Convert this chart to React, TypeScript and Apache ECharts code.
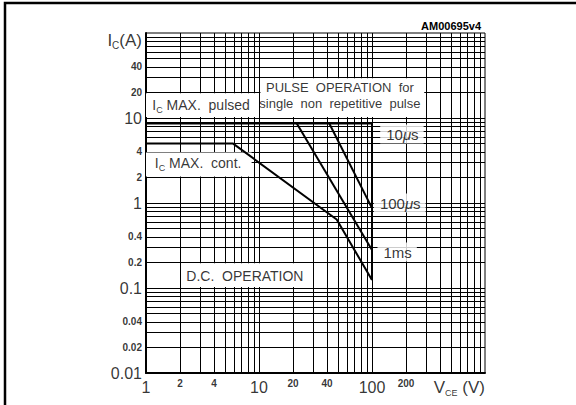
import React, { useEffect, useRef } from "react";
import * as echarts from "echarts";

// ---- grid structure (log paper) ----
const gridMultipliers = [1, 2, 3, 4, 5, 6, 7, 8, 9];
const xDecades = [1, 10, 100];
const yDecades = [0.01, 0.1, 1, 10];

// ---- tick labels ----
const xTickValues = [1, 2, 4, 10, 20, 40, 100, 200];
const xTickLabels = ["1", "2", "4", "10", "20", "40", "100", "200"];
const xTickMajor = [true, false, false, true, false, false, true, false];
const yTickValues = [0.01, 0.02, 0.04, 0.1, 0.2, 0.4, 1, 2, 4, 10, 20, 40];
const yTickLabels = ["0.01", "0.02", "0.04", "0.1", "0.2", "0.4", "1", "2", "4", "10", "20", "40"];
const yTickMajor = [true, false, false, true, false, false, true, false, false, true, false, false];

// ---- SOA curves (Vce in V, Ic in A) ----
const dcVce = [1, 5.9, 48.7, 100];
const dcIc = [5, 5, 0.64, 0.124];
const pulsedVce = [1, 100, 100];
const pulsedIc = [8.6, 8.6, 0.124];
const us100Vce = [41.9, 100];
const us100Ic = [8.6, 0.87];
const ms1Vce = [21.6, 100];
const ms1Ic = [8.6, 0.28];

// ---- white label boxes (data coords) ----
const boxVce0 = [1, 10.3, 1, 2.05];
const boxVce1 = [9.7, 290, 8.6, 29];
const boxIc0 = [10.3, 10.3, 2.05, 0.103];
const boxIc1 = [19.5, 29.3, 3.92, 0.195];

// ---- annotations ----
const noteTexts = [
  "{b|I}{s|C}{b| MAX.  pulsed}",
  "{c|PULSE  OPERATION  for}\n{c|single  non  repetitive  pulse}",
  "{b|I}{s|C}{b| MAX.  cont.}",
  "{b|D.C.  OPERATION}",
];
const noteVce = [3.07, 52, 2.89, 7.5];
const noteIc = [14.2, 18.2, 2.95, 0.14];

const timeTexts = ["{t|10}{m|\u03bc}{t|s}", "{t|100}{m|\u03bc}{t|s}", "{t|1ms}"];
const timeVce = [184, 176, 167];
const timeIc = [6.5, 1.0, 0.265];

const FONT = "'Liberation Sans', Arial, Helvetica, sans-serif";

export default function App() {
  const ref = useRef<HTMLDivElement>(null);

  useEffect(() => {
    const chart = echarts.init(ref.current!, undefined, { renderer: "svg" });

    const xGrid = xDecades
      .flatMap((d) => gridMultipliers.map((m) => m * d))
      .filter((v) => v > 1.0001 && v < 999);
    const yGrid = yDecades
      .flatMap((d) => gridMultipliers.map((m) => m * d))
      .filter((v) => v > 0.01001 && v < 99.9);

    const pairs = (xs: number[], ys: number[]) => xs.map((x, i) => [x, ys[i]]);

    const richMain = {
      b: { fontSize: 14, lineHeight: 18, color: "#000", fontFamily: FONT },
      s: { fontSize: 9, lineHeight: 9, verticalAlign: "bottom", color: "#000", fontFamily: FONT },
      c: { fontSize: 13, lineHeight: 16, color: "#000", fontFamily: FONT },
    };

    const xTickItems = xTickValues.map((v, i) => ({
      value: [v, 0.01],
      label: {
        show: true,
        formatter: xTickLabels[i],
        position: "bottom",
        distance: xTickMajor[i] ? 6 : 5,
        fontSize: xTickMajor[i] ? 16 : 10,
        fontWeight: xTickMajor[i] ? "normal" : "bold",
        color: "#000",
        fontFamily: FONT,
      },
    }));
    const yTickItems = yTickValues.map((v, i) => ({
      value: [1, v],
      label: {
        show: true,
        formatter: yTickLabels[i],
        position: "left",
        distance: 4,
        fontSize: yTickMajor[i] ? 16 : 10,
        fontWeight: yTickMajor[i] ? "normal" : "bold",
        color: "#000",
        fontFamily: FONT,
      },
    }));
    const axisNameItems = [
      {
        value: [1, 100],
        label: {
          show: true,
          formatter: "{b|I}{s|C}{b|(A)}",
          position: "left",
          distance: 4,
          offset: [0, 7],
          rich: {
            b: { fontSize: 17, lineHeight: 20, color: "#000", fontFamily: FONT },
            s: { fontSize: 10, lineHeight: 10, verticalAlign: "bottom", color: "#000", fontFamily: FONT },
          },
        },
      },
      {
        value: [1000, 0.01],
        label: {
          show: true,
          formatter: "{b|V}{s|CE}{b| (V)}",
          position: "bottom",
          align: "right",
          distance: 4,
          rich: {
            b: { fontSize: 17, lineHeight: 20, color: "#000", fontFamily: FONT },
            s: { fontSize: 9, lineHeight: 9, verticalAlign: "bottom", color: "#000", fontFamily: FONT },
          },
        },
      },
    ];
    const noteItems = noteTexts.map((t, i) => ({
      value: [noteVce[i], noteIc[i]],
      label: {
        show: true,
        formatter: t,
        position: "inside",
        align: "center",
        verticalAlign: "middle",
        rich: richMain,
      },
    }));
    const timeItems = timeTexts.map((t, i) => ({
      value: [timeVce[i], timeIc[i]],
      label: {
        show: true,
        formatter: t,
        position: "inside",
        align: "center",
        verticalAlign: "middle",
        backgroundColor: "#fff",
        padding: [2, 5, 1, 6],
        rich: {
          t: { fontSize: 15, lineHeight: 16, color: "#000", fontFamily: FONT },
          m: { fontSize: 15, lineHeight: 16, fontStyle: "italic", color: "#000", fontFamily: FONT },
        },
      },
    }));

    const curveStyle = { color: "#000", width: 2 };
    const curve = (name: string, data: number[][]) => ({
      name,
      type: "line",
      data,
      z: 10,
      symbol: "none",
      silent: true,
      clip: false,
      lineStyle: curveStyle,
      itemStyle: { color: "#000" },
    });

    const option = {
      animation: false,
      backgroundColor: "#fff",
      textStyle: { fontFamily: FONT },
      title: {
        text: "AM00695v4",
        right: 90,
        top: 15,
        textStyle: { fontSize: 11, fontWeight: "bold", color: "#000", fontFamily: FONT },
      },
      graphic: [
        {
          type: "rect",
          silent: true,
          z: 0,
          shape: { x: 5, y: 3, width: 640, height: 480 },
          style: { fill: "none", stroke: "#000", lineWidth: 2.5 },
        },
      ],
      grid: {
        left: 146,
        top: 33,
        right: 91,
        bottom: 32,
        show: true,
        borderColor: "#000",
        borderWidth: 1,
        backgroundColor: "transparent",
      },
      xAxis: {
        type: "log",
        logBase: 10,
        min: 1,
        max: 1000,
        axisLine: { show: true, onZero: false, lineStyle: { color: "#000", width: 2 } },
        axisTick: { show: false },
        axisLabel: { show: false },
        splitLine: { show: false },
      },
      yAxis: {
        type: "log",
        logBase: 10,
        min: 0.01,
        max: 100,
        axisLine: { show: true, onZero: false, lineStyle: { color: "#000", width: 2 } },
        axisTick: { show: false },
        axisLabel: { show: false },
        splitLine: { show: false },
      },
      series: [
        {
          name: "grid",
          type: "line",
          z: 1,
          silent: true,
          symbol: "none",
          data: [[1, 0.01]],
          lineStyle: { opacity: 0 },
          markLine: {
            z: 1,
            silent: true,
            animation: false,
            symbol: ["none", "none"],
            label: { show: false },
            lineStyle: { color: "#000", width: 1, type: "solid" },
            emphasis: { disabled: true },
            data: [
              ...xGrid.map((v) => ({ xAxis: v })),
              ...yGrid.map((v) => ({ yAxis: v })),
            ],
          },
        },
        {
          name: "boxes",
          type: "line",
          z: 2,
          silent: true,
          symbol: "none",
          data: [[1, 0.01]],
          lineStyle: { opacity: 0 },
          markArea: {
            z: 4,
            silent: true,
            animation: false,
            itemStyle: { color: "#fff", opacity: 1 },
            label: { show: false },
            emphasis: { disabled: true },
            data: boxVce0.map((x0, i) => [
              { coord: [x0, boxIc0[i]] },
              { coord: [boxVce1[i], boxIc1[i]] },
            ]),
          },
        },
        curve("dc", pairs(dcVce, dcIc)),
        curve("pulsed", pairs(pulsedVce, pulsedIc)),
        curve("100us", pairs(us100Vce, us100Ic)),
        curve("1ms", pairs(ms1Vce, ms1Ic)),
        {
          name: "labels",
          type: "scatter",
          z: 20,
          silent: true,
          symbolSize: 0,
          clip: false,
          itemStyle: { color: "transparent" },
          data: [...xTickItems, ...yTickItems, ...axisNameItems, ...noteItems, ...timeItems],
        },
      ],
    };

    chart.setOption(option as any);
    return () => chart.dispose();
  }, []);

  return (
    <div
      ref={ref}
      style={{ position: "fixed", left: 0, top: 0, width: 576, height: 405, background: "#fff" }}
    />
  );
}
